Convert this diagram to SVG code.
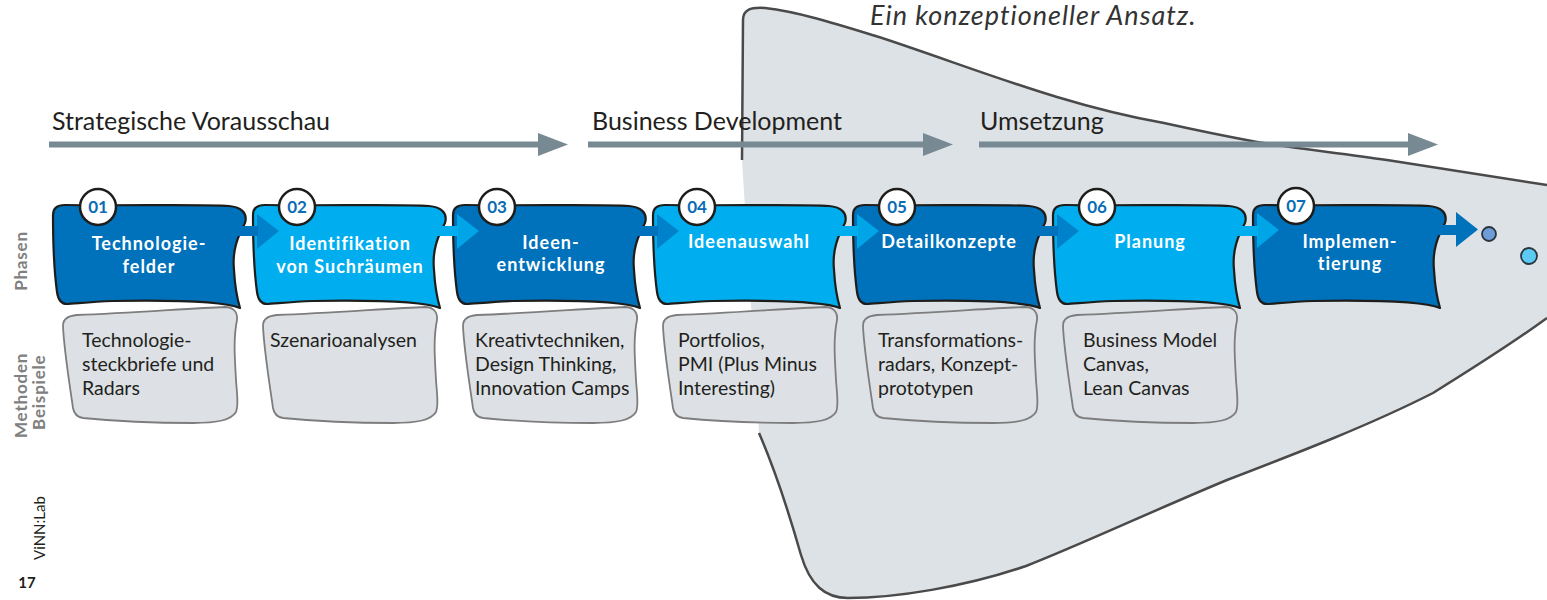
<svg xmlns="http://www.w3.org/2000/svg" xmlns:xlink="http://www.w3.org/1999/xlink" width="1547" height="600" viewBox="0 0 1547 600">
<style>
.pbox{stroke:#1d1d1b;stroke-width:2.2;stroke-linejoin:round}
.dark{fill:#0071bb}
.light{fill:#00aeef}
.mbox{fill:#dde1e5;stroke:#7d7d7d;stroke-width:1.8}
.pl{font-family:Lato,"Open Sans",sans-serif;font-weight:700;font-size:18px;letter-spacing:1px;fill:#ffffff;text-anchor:middle}
.num{font-family:Lato,"Open Sans",sans-serif;font-weight:700;font-size:17px;fill:#0a6cb4;text-anchor:middle}
.ncirc{fill:#ffffff;stroke:#1d1d1b;stroke-width:2.5}
.mt{font-family:Lato,"Open Sans",sans-serif;font-size:19.5px;fill:#231f20}
.hd{font-family:Lato,"Open Sans",sans-serif;font-size:25px;fill:#231f20}
.harrow{stroke:#778993;stroke-width:6;fill:none}
.side{font-family:Lato,"Open Sans",sans-serif;font-weight:700;font-size:17px;fill:#808080;letter-spacing:0.8px}
.funnel-line{fill:none;stroke:#4a4a4a;stroke-width:2.5}
</style>
<defs>
<path id="phase" d="M 0,215 C 0,208 4,205 12,205 C 70,206 150,204 176,206 C 188,207 195,213 192,223 C 185,236 179,250 181,270 C 182,288 184,298 187,308 C 170,301 120,300 60,301 C 35,302 20,304 14,304 C 8,304 5,299 4,292 C 1,270 0,240 0,215 Z"/>
<path id="method" d="M 10,326 C 10,318 16,316 24,315 C 80,313 140,308 172,307 C 180,307 185,312 184,320 C 180,340 182,360 183,380 C 184,395 186,405 183,412 C 178,420 165,423 140,423 C 110,423 60,421 30,418 C 24,417 21,414 20,408 C 16,380 11,350 10,326 Z"/>
<marker id="hhead" markerUnits="userSpaceOnUse" markerWidth="31" markerHeight="24" refX="0" refY="11.5" orient="auto">
<path d="M0,0 L30,11.5 L0,23 Z" fill="#778993"/>
</marker>
</defs>

<g id="funnel">
<path d="M 742,160 L 743,20 C 743,10 750,7 765,8 C 800,12 840,25 879,37 C 940,57 1000,80 1057,97 C 1100,110 1130,117 1164,123 C 1200,131 1230,137 1257,142 C 1300,149 1340,153 1387,160 L 1547,185 L 1547,318 C 1510,345 1470,370 1433,393 C 1370,425 1300,452 1227,480 C 1150,512 1080,545 1026,566 C 965,587 895,598 848,598 C 825,598 810,585 801,555 C 791,520 775,470 759,433 Z" fill="#dde2e6"/>
<path class="funnel-line" d="M 742,160 L 743,20 C 743,10 750,7 765,8 C 800,12 840,25 879,37 C 940,57 1000,80 1057,97 C 1100,110 1130,117 1164,123 C 1200,131 1230,137 1257,142 C 1300,149 1340,153 1387,160 L 1547,185"/>
<path class="funnel-line" d="M 1547,318 C 1510,345 1470,370 1433,393 C 1370,425 1300,452 1227,480 C 1150,512 1080,545 1026,566 C 965,587 895,598 848,598 C 825,598 810,585 801,555 C 791,520 775,470 759,433"/>
</g>

<text x="870" y="25" font-family="Lato,'Open Sans',sans-serif" font-style="italic" font-size="27" letter-spacing="1" fill="#333333">Ein konzeptioneller Ansatz.</text>

<g id="headers">
<text class="hd" x="52" y="130">Strategische Vorausschau</text>
<line class="harrow" x1="49" y1="144.5" x2="538" y2="144.5" marker-end="url(#hhead)"/>
<text class="hd" x="592" y="130">Business Development</text>
<line class="harrow" x1="588" y1="144.5" x2="923" y2="144.5" marker-end="url(#hhead)"/>
<text class="hd" x="980" y="130">Umsetzung</text>
<line class="harrow" x1="979" y1="144.5" x2="1408" y2="144.5" marker-end="url(#hhead)"/>
</g>

<g id="side-labels">
<text class="side" transform="translate(27,261) rotate(-90)" text-anchor="middle">Phasen</text>
<text class="side" transform="translate(27,438) rotate(-90)">Methoden</text>
<text class="side" transform="translate(45,430) rotate(-90)">Beispiele</text>
<text transform="translate(45,560) rotate(-90)" font-family="Lato,'Open Sans',sans-serif" font-size="15" fill="#231f20">ViNN:Lab</text>
<text x="27" y="588" text-anchor="middle" font-family="Lato,'Open Sans',sans-serif" font-weight="700" font-size="15" fill="#231f20">17</text>
</g>

<g id="phase-01">
<use xlink:href="#phase" href="#phase" x="53" class="pbox dark"/>
<circle class="ncirc" cx="98" cy="207" r="18"/>
<text class="num" x="98" y="213">01</text>
<text class="pl" x="149" y="250">Technologie-</text>
<text class="pl" x="149" y="273">felder</text>
</g>
<g id="phase-02">
<use xlink:href="#phase" href="#phase" x="253" class="pbox light"/>
<circle class="ncirc" cx="297" cy="207" r="18"/>
<text class="num" x="297" y="213">02</text>
<text class="pl" x="350" y="250">Identifikation</text>
<text class="pl" x="350" y="273">von Suchräumen</text>
</g>
<g id="phase-03">
<use xlink:href="#phase" href="#phase" x="453" class="pbox dark"/>
<circle class="ncirc" cx="497" cy="207" r="18"/>
<text class="num" x="497" y="213">03</text>
<text class="pl" x="551" y="249">Ideen-</text>
<text class="pl" x="551" y="271">entwicklung</text>
</g>
<g id="phase-04">
<use xlink:href="#phase" href="#phase" x="653" class="pbox light"/>
<circle class="ncirc" cx="697" cy="207" r="18"/>
<text class="num" x="697" y="213">04</text>
<text class="pl" x="749" y="248">Ideenauswahl</text>
</g>
<g id="phase-05">
<use xlink:href="#phase" href="#phase" x="853" class="pbox dark"/>
<circle class="ncirc" cx="897" cy="207" r="18"/>
<text class="num" x="897" y="213">05</text>
<text class="pl" x="949" y="248">Detailkonzepte</text>
</g>
<g id="phase-06">
<use xlink:href="#phase" href="#phase" x="1053" class="pbox light"/>
<circle class="ncirc" cx="1097" cy="207" r="18"/>
<text class="num" x="1097" y="213">06</text>
<text class="pl" x="1150" y="248">Planung</text>
</g>
<g id="phase-07">
<use xlink:href="#phase" href="#phase" x="1253" class="pbox dark"/>
<circle class="ncirc" cx="1296" cy="206" r="18"/>
<text class="num" x="1296" y="212">07</text>
<text class="pl" x="1350" y="248">Implemen-</text>
<text class="pl" x="1350" y="270">tierung</text>
</g>

<g id="methods-01">
<use xlink:href="#method" href="#method" x="53" class="mbox"/>
<text class="mt" x="82" y="347">Technologie-</text>
<text class="mt" x="82" y="371">steckbriefe und</text>
<text class="mt" x="82" y="395">Radars</text>
</g>
<g id="methods-02">
<use xlink:href="#method" href="#method" x="253" class="mbox"/>
<text class="mt" x="270" y="347">Szenarioanalysen</text>
</g>
<g id="methods-03">
<use xlink:href="#method" href="#method" x="453" class="mbox"/>
<text class="mt" x="475" y="347">Kreativtechniken,</text>
<text class="mt" x="475" y="371">Design Thinking,</text>
<text class="mt" x="475" y="395">Innovation Camps</text>
</g>
<g id="methods-04">
<use xlink:href="#method" href="#method" x="653" class="mbox"/>
<text class="mt" x="678" y="347">Portfolios,</text>
<text class="mt" x="678" y="371">PMI (Plus Minus</text>
<text class="mt" x="678" y="395">Interesting)</text>
</g>
<g id="methods-05">
<use xlink:href="#method" href="#method" x="853" class="mbox"/>
<text class="mt" x="878" y="347">Transformations-</text>
<text class="mt" x="878" y="371">radars, Konzept-</text>
<text class="mt" x="878" y="395">prototypen</text>
</g>
<g id="methods-06">
<use xlink:href="#method" href="#method" x="1053" class="mbox"/>
<text class="mt" x="1083" y="347">Business Model</text>
<text class="mt" x="1083" y="371">Canvas,</text>
<text class="mt" x="1083" y="395">Lean Canvas</text>
</g>

<g id="connectors">
<rect x="236" y="226" width="22" height="10" fill="#0071bb"/>
<path d="M257,214 L279,231 L257,249 Z" fill="#0071bb" fill-opacity="0.72"/>
<rect x="436" y="226" width="22" height="10" fill="#00aeef"/>
<path d="M457,214 L479,231 L457,249 Z" fill="#00aeef" fill-opacity="0.85"/>
<rect x="636" y="226" width="22" height="10" fill="#0071bb"/>
<path d="M657,214 L679,231 L657,249 Z" fill="#0071bb" fill-opacity="0.72"/>
<rect x="836" y="226" width="22" height="10" fill="#00aeef"/>
<path d="M857,214 L879,231 L857,249 Z" fill="#00aeef" fill-opacity="0.85"/>
<rect x="1036" y="226" width="22" height="10" fill="#0071bb"/>
<path d="M1057,214 L1079,231 L1057,249 Z" fill="#0071bb" fill-opacity="0.72"/>
<rect x="1236" y="226" width="22" height="10" fill="#00aeef"/>
<path d="M1257,213 L1279,230 L1257,248 Z" fill="#00aeef" fill-opacity="0.85"/>
<rect x="1436" y="225" width="22" height="10" fill="#0071bb"/>
<path d="M1456,212 L1478,229.5 L1456,247 Z" fill="#0071bb"/>
</g>

<g id="end-dots">
<circle cx="1489" cy="234" r="7" fill="#6f9bd6" stroke="#2a3540" stroke-width="1.8"/>
<circle cx="1529" cy="256" r="8" fill="#5ccbf3" stroke="#2a3540" stroke-width="1.8"/>
</g>
</svg>
